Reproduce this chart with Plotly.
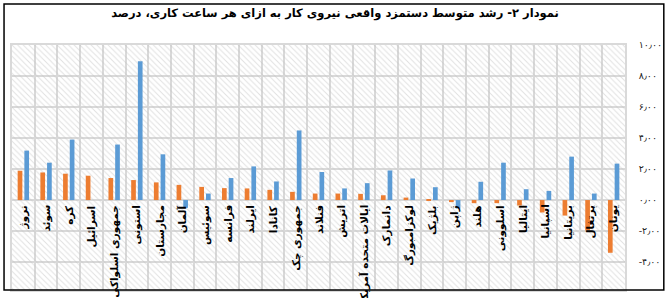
import plotly.graph_objects as go

# ---- data ----
categories = ["نروژ", "سوئد", "کره", "اسرائیل", "جمهوری اسلواکی", "استونی", "مجارستان",
              "آلمان", "سوئیس", "فرانسه", "ایرلند", "کانادا", "جمهوری چک", "فنلاند",
              "اتریش", "ایالات متحده آمریکا", "دانمارک", "لوکزامبورگ", "بلژیک", "ژاپن",
              "هلند", "اسلوونی", "ایتالیا", "اسپانیا", "بریتانیا", "پرتغال", "یونان"]
orange_vals = [1.89, 1.78, 1.70, 1.57, 1.42, 1.29, 1.14, 0.98, 0.85, 0.77, 0.75, 0.66, 0.53, 0.42,
               0.42, 0.40, 0.31, 0.16, 0.03, -0.13, -0.20, -0.20, -0.35, -0.80, -1.00, -1.95, -3.40]
blue_vals = [3.19, 2.41, 3.90, None, 3.58, 8.96, 2.95, -0.50, 0.42, 1.42, 2.17, 1.20, 4.49, 1.81,
             0.75, 1.09, 1.91, 1.39, 0.83, -0.55, 1.18, 2.41, 0.70, 0.59, 2.80, 0.42, 2.35]
y_tickvals = [-4, -2, 0, 2, 4, 6, 8, 10]
y_ticktext = ["-۴٫۰۰", "-۲٫۰۰", "۰٫۰۰", "۲٫۰۰", "۴٫۰۰", "۶٫۰۰", "۸٫۰۰", "۱۰٫۰۰"]
title_text = "نمودار ۲- رشد متوسط دستمزد واقعی نیروی کار به ازای هر ساعت کاری، درصد"

# ---- layout constants ----
W, H = 670, 298
ML, MR, MT, MB = 12, 42, 45, 8
FONT = "DejaVu Sans"
GRID = "#d9d9d9"
plot_w = W - ML - MR
plot_h = H - MT - MB

fig = go.Figure()

# hatched plot background (decorative) on the base axes
fig.add_trace(go.Bar(
    x=[0.5], y=[1], width=[1], base=[0], xaxis="x", yaxis="y",
    marker=dict(color="rgba(0,0,0,0)", line=dict(width=0),
                pattern=dict(shape="\\", fgcolor="#c2c2c2", bgcolor="rgba(0,0,0,0)",
                             size=4, solidity=0.25)),
    hoverinfo="skip", showlegend=False))

fig.add_trace(go.Bar(x=categories, y=orange_vals, xaxis="x2", yaxis="y2",
                     marker=dict(color="#ED7D31", line=dict(width=0)), showlegend=False))
fig.add_trace(go.Bar(x=categories, y=blue_vals, xaxis="x2", yaxis="y2",
                     marker=dict(color="#5B9BD5", line=dict(width=0)), showlegend=False))

annotations = []
for c in categories:
    annotations.append(dict(x=c, y=0, xref="x2", yref="y2", text="<b>" + c + "</b>",
                            textangle=-90, xanchor="center", yanchor="top", yshift=-3,
                            showarrow=False, font=dict(family=FONT, size=10.5, color="black")))

fig.update_layout(
    width=W, height=H,
    margin=dict(l=ML, r=MR, t=MT, b=MB, pad=0),
    paper_bgcolor="white", plot_bgcolor="white",
    barmode="group", bargap=0.41, bargroupgap=0.3,
    title=dict(text="<b>" + title_text + "</b>", x=0.5, xref="container", xanchor="center",
               y=1 - 13 / H, yref="container", yanchor="middle",
               font=dict(family=FONT, size=11.5, color="black")),
    xaxis=dict(range=[0, 1], visible=False, fixedrange=True),
    yaxis=dict(range=[0, 1], visible=False, fixedrange=True),
    xaxis2=dict(overlaying="x", anchor="y2", type="category", tickson="boundaries",
                showgrid=True, gridcolor=GRID, gridwidth=1.5, showticklabels=False, ticks="",
                showline=True, mirror=True, linecolor=GRID, linewidth=1.5, zeroline=False),
    yaxis2=dict(overlaying="y", anchor="x2", side="right", range=[-5.8, 10],
                tickvals=y_tickvals, ticktext=y_ticktext, showgrid=True, gridcolor=GRID,
                gridwidth=1.5, zeroline=False, ticks="", ticklabelstandoff=10,
                showline=True, mirror=True, linecolor=GRID, linewidth=1.5,
                tickfont=dict(family=FONT, size=9.5, color="#222222")),
    annotations=annotations,
    shapes=[dict(type="rect", xref="paper", yref="paper",
                 x0=(4 - ML) / plot_w, x1=(667 - ML) / plot_w,
                 y0=0, y1=(H - MB - 4) / plot_h,
                 line=dict(color="black", width=1.5), fillcolor="rgba(0,0,0,0)")],
)

fig.write_html("out.html")
